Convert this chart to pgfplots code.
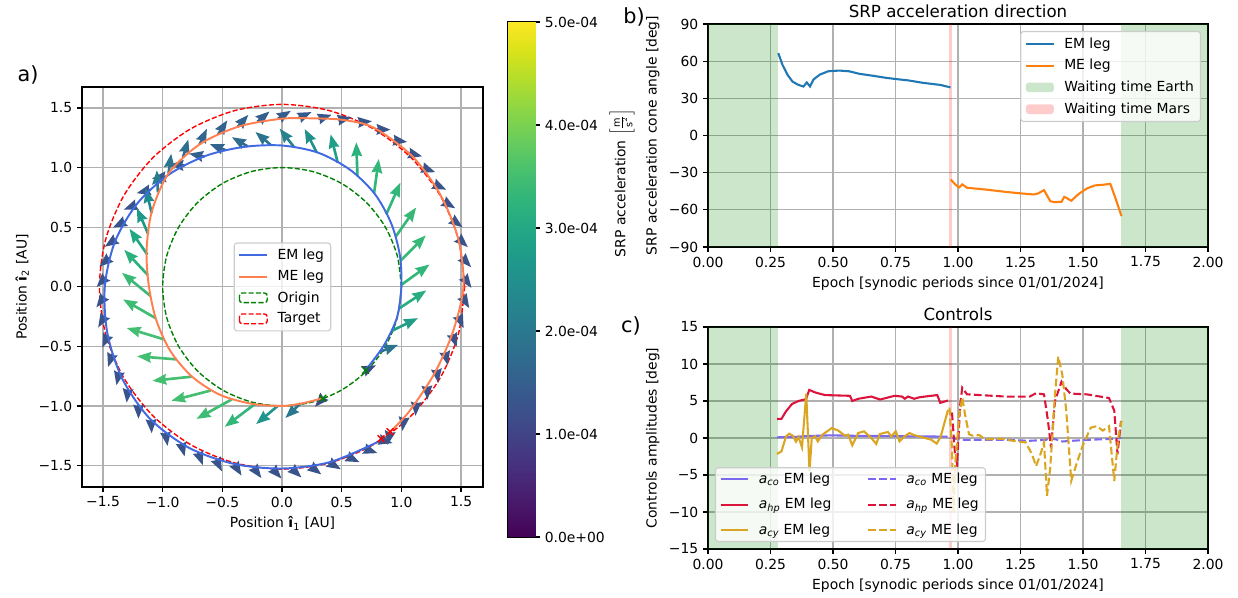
\documentclass[border=0pt]{standalone}
\usepackage{fontspec}
\setmainfont{DejaVu Sans}
\usepackage{pgfplots}
\pgfplotsset{compat=1.18}
\usepackage{pgfplotstable}
\usetikzlibrary{arrows.meta}

\definecolor{royalblue}{RGB}{65,105,225}
\definecolor{coral}{RGB}{255,127,80}
\definecolor{mplgreen}{RGB}{0,128,0}
\definecolor{mplred}{RGB}{255,0,0}
\definecolor{cC0}{RGB}{31,119,180}
\definecolor{cC1}{RGB}{255,127,14}
\definecolor{mslate}{RGB}{123,104,238}
\definecolor{crimson}{RGB}{220,20,60}
\definecolor{goldenrod}{RGB}{218,165,32}
\definecolor{gridgray}{RGB}{176,176,176}
\definecolor{legedge}{RGB}{204,204,204}
\definecolor{waitE}{RGB}{204,230,204}
\definecolor{waitM}{RGB}{255,204,204}

\pgfplotstableread{
x y u v m
0.700 -0.700 0.088 0.041 1.1
0.823 -0.545 0.150 0.058 1.9
0.918 -0.371 0.221 0.108 2.8
0.981 -0.182 0.228 0.151 3.1
1.001 0.017 0.235 0.170 3.3
0.994 0.220 0.211 0.211 3.35
0.952 0.420 0.172 0.245 3.35
0.874 0.608 0.118 0.265 3.3
0.771 0.785 0.040 0.287 3.3
0.632 0.930 -0.010 0.282 3.2
0.467 1.040 -0.060 0.239 2.8
0.290 1.128 -0.100 0.196 2.5
0.099 1.174 -0.119 0.153 2.2
-0.096 1.191 -0.127 0.108 1.9
-0.287 1.177 -0.133 0.078 1.75
-0.473 1.146 -0.132 0.050 1.6
-0.650 1.091 -0.129 0.026 1.5
-0.816 1.018 -0.128 0.005 1.45
-0.969 0.923 -0.122 -0.014 1.4
-1.103 0.813 -0.116 -0.028 1.35
-1.220 0.687 -0.107 -0.040 1.3
-1.316 0.548 -0.101 -0.052 1.3
-1.391 0.399 -0.095 -0.064 1.3
-1.445 0.242 -0.087 -0.074 1.3
-1.476 0.080 -0.078 -0.083 1.3
-1.488 -0.083 -0.068 -0.091 1.3
-1.483 -0.245 -0.058 -0.098 1.3
-1.459 -0.407 -0.047 -0.104 1.3
-1.422 -0.566 -0.036 -0.108 1.3
-1.364 -0.716 -0.024 -0.111 1.3
-1.290 -0.860 -0.012 -0.113 1.3
-1.202 -0.994 -0.001 -0.114 1.3
-1.097 -1.116 0.005 -0.114 1.3
-0.976 -1.223 0.017 -0.113 1.3
-0.844 -1.314 0.028 -0.110 1.3
-0.702 -1.391 0.039 -0.107 1.3
-0.553 -1.448 0.050 -0.102 1.3
-0.399 -1.488 0.060 -0.097 1.3
-0.240 -1.514 0.067 -0.092 1.3
-0.080 -1.525 0.076 -0.085 1.3
0.080 -1.523 0.083 -0.078 1.3
0.239 -1.506 0.091 -0.069 1.3
0.395 -1.473 0.098 -0.059 1.3
0.547 -1.424 0.103 -0.048 1.3
0.692 -1.359 0.108 -0.037 1.3
0.817 -1.282 0.110 -0.030 1.3
}\emarrows

\pgfplotstableread{
x y u v m
0.906 -1.216 -0.022 -0.112 1.3
1.023 -1.097 -0.014 -0.113 1.3
1.124 -0.970 -0.006 -0.114 1.3
1.214 -0.834 0.005 -0.114 1.3
1.294 -0.694 0.015 -0.113 1.3
1.364 -0.548 0.026 -0.111 1.3
1.426 -0.398 0.038 -0.108 1.3
1.475 -0.244 0.047 -0.104 1.3
1.510 -0.082 0.059 -0.098 1.3
1.521 0.082 0.067 -0.092 1.3
1.508 0.247 0.077 -0.084 1.3
1.474 0.409 0.084 -0.077 1.3
1.422 0.566 0.092 -0.067 1.3
1.354 0.717 0.098 -0.059 1.3
1.274 0.862 0.103 -0.048 1.3
1.178 0.999 0.107 -0.038 1.3
1.064 1.121 0.111 -0.027 1.3
0.936 1.229 0.113 -0.014 1.3
0.796 1.320 0.114 -0.002 1.3
0.640 1.379 0.114 0.010 1.3
0.471 1.398 0.112 0.023 1.3
0.304 1.407 0.113 0.036 1.35
0.136 1.415 0.112 0.051 1.4
-0.034 1.410 0.109 0.067 1.45
-0.205 1.385 0.101 0.086 1.5
-0.372 1.341 0.090 0.102 1.55
-0.535 1.279 0.077 0.118 1.6
-0.690 1.195 0.061 0.131 1.65
-0.829 1.088 0.044 0.148 1.75
-0.951 0.951 0.023 0.165 1.9
-1.040 0.792 -0.009 0.185 2.1
-1.092 0.618 -0.049 0.205 2.4
-1.121 0.442 -0.095 0.218 2.7
-1.128 0.269 -0.150 0.217 3.0
-1.124 0.098 -0.198 0.212 3.2
-1.102 -0.077 -0.239 0.194 3.4
-1.058 -0.264 -0.274 0.158 3.45
-0.990 -0.441 -0.312 0.095 3.5
-0.886 -0.609 -0.329 0.026 3.5
-0.754 -0.754 -0.332 -0.035 3.5
-0.599 -0.871 -0.328 -0.085 3.5
-0.421 -0.945 -0.296 -0.164 3.45
-0.227 -0.984 -0.253 -0.191 3.3
-0.035 -0.999 -0.182 -0.153 2.6
0.155 -0.979 -0.127 -0.122 2.0
0.341 -0.936 -0.065 -0.072 1.1
}\mearrows

\pgfplotsset{
  mplstyle/.style={
    scale only axis,
    axis line style={line width=0.8pt},
    every tick/.style={line width=0.8pt, black},
    major tick length=3.5pt,
    tick align=outside,
    tick pos=left,
    grid=major,
    grid style={line width=0.8pt, color=gridgray},
    tick label style={font=\fontsize{10}{12}\selectfont},
    label style={font=\fontsize{10}{12}\selectfont},
    title style={font=\fontsize{12}{14}\selectfont, yshift=-5pt},
    legend cell align=left,
    legend image code/.code={\draw[##1] (0pt,0pt) -- (20pt,0pt);},
    legend style={font=\fontsize{10}{12}\selectfont, draw=legedge, line width=0.8pt,
      fill=white, fill opacity=0.8, draw opacity=1, text opacity=1,
      rounded corners=2pt, inner xsep=3pt, inner ysep=2.5pt, row sep=2.2pt,
      nodes={inner sep=1.8pt},
      /tikz/every odd column/.append style={column sep=5pt}},
  },
  patchleg/.style={legend image code/.code={\draw[##1] (0pt,-3.5pt) rectangle (20pt,3.5pt);}},
  patchE/.style={legend image code/.code={\path[fill=waitE, draw=none, fill opacity=1] (0pt,-3.5pt) rectangle (20pt,3.5pt);}},
  patchM/.style={legend image code/.code={\path[fill=waitM, draw=none, fill opacity=1] (0pt,-3.5pt) rectangle (20pt,3.5pt);}},
  quivarrow/.style={quiver={u=\thisrow{u}, v=\thisrow{v}, colored=mapped color,
   every arrow/.append style={line width=1.9pt, -{Stealth[length=10pt, width=7.5pt, inset=1pt]}}},
   point meta=\thisrow{m}, forget plot},
}

\begin{document}
\begin{tikzpicture}
\useasboundingbox (0,0) rectangle (891.36pt,430.56pt);

% ---------------- panel a ----------------
\begin{axis}[mplstyle, at={(59.04pt,79.92pt)}, anchor=south west,
  width=288.72pt, height=288pt,
  xmin=-1.676, xmax=1.684, ymin=-1.68, ymax=1.676,
  xtick={-1.5,-1,-0.5,0,0.5,1,1.5}, xticklabels={−1.5,−1.0,−0.5,0.0,0.5,1.0,1.5},
  ytick={-1.5,-1,-0.5,0,0.5,1,1.5}, yticklabels={−1.5,−1.0,−0.5,0.0,0.5,1.0,1.5},
  xlabel={Position \textbf{î}\textsubscript{1} [AU]},
  ylabel={Position \textbf{î}\textsubscript{2} [AU]},
  colormap/viridis, point meta min=0, point meta max=5,
  legend style={at={(0.5,0.5)}, anchor=center, row sep=2.6pt},
]
\addplot[mplgreen, line width=1pt, dash pattern=on 3.7pt off 1.6pt, smooth, forget plot] coordinates {
(1,0)(0.966,0.259)(0.866,0.5)(0.707,0.707)(0.5,0.866)(0.259,0.966)(0,1)(-0.259,0.966)(-0.5,0.866)(-0.707,0.707)(-0.866,0.5)(-0.966,0.259)(-1,0)(-0.966,-0.259)(-0.866,-0.5)(-0.707,-0.707)(-0.5,-0.866)(-0.259,-0.966)(0,-1)(0.259,-0.966)(0.5,-0.866)(0.707,-0.707)(0.866,-0.5)(0.966,-0.259)(1,0)};
\addplot[mplred, line width=1pt, dash pattern=on 3.7pt off 1.6pt, smooth, forget plot] coordinates {
(1.53,0)(1.478,0.396)(1.325,0.765)(1.082,1.082)(0.765,1.325)(0.396,1.478)(0,1.53)(-0.396,1.478)(-0.765,1.325)(-1.082,1.082)(-1.325,0.765)(-1.478,0.396)(-1.53,0)(-1.478,-0.396)(-1.325,-0.765)(-1.082,-1.082)(-0.765,-1.325)(-0.396,-1.478)(0,-1.53)(0.396,-1.478)(0.765,-1.325)(1.082,-1.082)(1.325,-0.765)(1.478,-0.396)(1.53,0)};
\addplot[quivarrow] table {\emarrows};
\addplot[quivarrow] table {\mearrows};
\addplot[royalblue, line width=1.4pt, smooth, forget plot] coordinates {
(0.700,-0.700)(0.853,-0.493)(0.963,-0.258)(1.0,0)(0.987,0.265)(0.916,0.529)(0.778,0.778)(0.568,0.983)(0.302,1.125)(0,1.185)(-0.314,1.174)(-0.635,1.100)(-0.944,0.944)(-1.212,0.700)(-1.401,0.375)(-1.485,0)(-1.463,-0.392)(-1.338,-0.773)(-1.107,-1.107)(-0.780,-1.351)(-0.399,-1.487)(0,-1.525)(0.395,-1.473)(0.763,-1.321)(0.830,-1.275)};
\addplot[coral, line width=1.4pt, smooth, forget plot] coordinates {
(0.906,-1.216)(1.057,-1.057)(1.273,-0.735)(1.430,-0.383)(1.52,0)(1.478,0.396)(1.329,0.768)(1.093,1.093)(0.770,1.334)(0.510,1.400)(0.249,1.413)(0,1.41)(-0.360,1.345)(-0.690,1.195)(-0.951,0.951)(-1.091,0.630)(-1.135,0.304)(-1.115,0)(-1.053,-0.282)(-0.935,-0.540)(-0.754,-0.754)(-0.523,-0.905)(-0.263,-0.980)(0,-1.0)(0.172,-0.977)(0.341,-0.936)};
\addplot[only marks, mark=x, mplgreen, mark size=3.5pt, line width=1pt, forget plot] coordinates {(0.700,-0.700)(0.341,-0.936)};
\addplot[only marks, mark=x, mplred, mark size=3.5pt, line width=1pt, forget plot] coordinates {(0.830,-1.275)(0.906,-1.216)};
\addlegendimage{royalblue, line width=1.4pt}\addlegendentry{EM leg}
\addlegendimage{coral, line width=1.4pt}\addlegendentry{ME leg}
\addlegendimage{mplgreen, line width=1pt, dash pattern=on 3.7pt off 1.6pt, patchleg}\addlegendentry{Origin}
\addlegendimage{mplred, line width=1pt, dash pattern=on 3.7pt off 1.6pt, patchleg}\addlegendentry{Target}
\end{axis}

% ---------------- colorbar ----------------
\begin{axis}[at={(365.76pt,43.92pt)}, anchor=south west, scale only axis,
  width=19.44pt, height=370.8pt,
  xmin=0, xmax=1, ymin=0, ymax=5, enlargelimits=false,
  axis line style={line width=0.8pt},
  xtick=\empty, ytick={0,1,2,3,4,5},
  yticklabels={0.0e+00,1.0e-04,2.0e-04,3.0e-04,4.0e-04,5.0e-04},
  ytick pos=right, tick align=outside, major tick length=3.5pt,
  every tick/.style={line width=0.8pt, black},
  tick label style={font=\fontsize{10}{12}\selectfont},
  colormap/viridis, point meta min=0, point meta max=5,
]
\addplot[surf, shader=interp, point meta=y, mesh/cols=2] coordinates {
(0,0)(1,0)(0,0.5)(1,0.5)(0,1)(1,1)(0,1.5)(1,1.5)(0,2)(1,2)(0,2.5)(1,2.5)(0,3)(1,3)(0,3.5)(1,3.5)(0,4)(1,4)(0,4.5)(1,4.5)(0,5)(1,5)};
\end{axis}

% ---------------- panel b ----------------
\begin{axis}[mplstyle, at={(509.76pt,252.72pt)}, anchor=south west,
  width=360pt, height=160.56pt,
  xmin=0, xmax=2, ymin=-90, ymax=90,
  xtick={0,0.25,0.5,0.75,1,1.25,1.5,1.75,2},
  xticklabels={0.00,0.25,0.50,0.75,1.00,1.25,1.50,1.75,2.00},
  ytick={-90,-60,-30,0,30,60,90}, yticklabels={−90,−60,−30,0,30,60,90},
  title={SRP acceleration direction},
  xlabel={Epoch [synodic periods since 01/01/2024]},
  ylabel={SRP acceleration cone angle [deg]},
  legend style={at={(1,1)}, anchor=north east, xshift=-5pt, yshift=-5pt, row sep=3pt},
]
\addplot[fill=mplgreen, fill opacity=0.2, draw=none, forget plot] coordinates {(0,-90)(0.28,-90)(0.28,90)(0,90)} -- cycle;
\addplot[fill=mplgreen, fill opacity=0.2, draw=none, forget plot] coordinates {(1.652,-90)(2,-90)(2,90)(1.652,90)} -- cycle;
\addplot[fill=mplred, fill opacity=0.2, draw=none, forget plot] coordinates {(0.965,-90)(0.975,-90)(0.975,90)(0.965,90)} -- cycle;
\addplot[cC0, line width=1.5pt, forget plot] coordinates {
(0.281,66.5)(0.298,57)(0.318,49)(0.338,43.5)(0.36,41)(0.382,39.5)(0.395,42.8)(0.408,39.6)(0.422,45.2)(0.447,49.1)(0.48,51.8)(0.525,52.4)(0.565,51.8)(0.605,49.8)(0.66,48.2)(0.713,46.5)(0.767,45.2)(0.80,44.5)(0.86,42.5)(0.93,40.8)(0.97,38.8)};
\addplot[cC1, line width=1.5pt, forget plot] coordinates {
(0.971,-35.5)(0.988,-39.3)(1.004,-42)(1.017,-39.5)(1.036,-42.2)(1.109,-43.6)(1.19,-45.5)(1.255,-46.8)(1.304,-47.6)(1.32,-46.8)(1.344,-44.1)(1.369,-53)(1.385,-53.8)(1.414,-53.5)(1.425,-49.5)(1.433,-50.3)(1.453,-52.7)(1.482,-47.3)(1.515,-42.8)(1.547,-40.3)(1.579,-39.8)(1.609,-39)(1.628,-49.5)(1.654,-65.1)};
\addlegendimage{cC0, line width=1.5pt}\addlegendentry{EM leg}
\addlegendimage{cC1, line width=1.5pt}\addlegendentry{ME leg}
\addlegendimage{patchE}\addlegendentry{Waiting time Earth}
\addlegendimage{patchM}\addlegendentry{Waiting time Mars}
\end{axis}

% ---------------- panel c ----------------
\begin{axis}[mplstyle, at={(509.76pt,35.28pt)}, anchor=south west,
  width=360pt, height=159.84pt,
  xmin=0, xmax=2, ymin=-15, ymax=15,
  xtick={0,0.25,0.5,0.75,1,1.25,1.5,1.75,2},
  xticklabels={0.00,0.25,0.50,0.75,1.00,1.25,1.50,1.75,2.00},
  ytick={-15,-10,-5,0,5,10,15}, yticklabels={−15,−10,−5,0,5,10,15},
  title={Controls},
  xlabel={Epoch [synodic periods since 01/01/2024]},
  ylabel={Controls amplitudes [deg]},
  legend columns=2,
  legend style={at={(0,0)}, anchor=south west, xshift=5pt, yshift=5pt, row sep=5.5pt,
    inner ysep=2pt, /tikz/every even column/.append style={column sep=24pt}},
]
\addplot[fill=mplgreen, fill opacity=0.2, draw=none, forget plot] coordinates {(0,-15)(0.28,-15)(0.28,15)(0,15)} -- cycle;
\addplot[fill=mplgreen, fill opacity=0.2, draw=none, forget plot] coordinates {(1.652,-15)(2,-15)(2,15)(1.652,15)} -- cycle;
\addplot[fill=mplred, fill opacity=0.2, draw=none, forget plot] coordinates {(0.965,-15)(0.975,-15)(0.975,15)(0.965,15)} -- cycle;
% EM leg
\addplot[mslate, line width=1.5pt, forget plot] coordinates {
(0.276,0.09)(0.35,0.15)(0.402,0.27)(0.495,0.36)(0.574,0.3)(0.66,0.28)(0.759,0.24)(0.85,0.22)(0.958,0.18)};
\addplot[crimson, line width=1.5pt, forget plot] coordinates {
(0.276,2.56)(0.294,2.6)(0.312,3.6)(0.336,4.6)(0.362,5.0)(0.392,5.25)(0.405,6.5)(0.429,6.15)(0.468,5.8)(0.568,5.7)(0.577,5.0)(0.601,5.3)(0.653,5.6)(0.688,5.2)(0.70,5.3)(0.746,5.7)(0.776,5.6)(0.787,5.3)(0.80,5.6)(0.825,5.3)(0.845,5.5)(0.892,5.7)(0.917,5.8)(0.929,4.75)(0.96,5.07)};
\addplot[goldenrod, line width=1.5pt, forget plot] coordinates {
(0.276,-2.15)(0.294,-1.8)(0.312,0.22)(0.325,0.58)(0.339,0.31)(0.352,-0.5)(0.362,0.13)(0.376,-1.26)(0.393,6.0)(0.406,-4.5)(0.415,0)(0.429,0.22)(0.439,-0.45)(0.458,0.45)(0.495,1.35)(0.521,1.0)(0.548,0.31)(0.561,0.45)(0.577,-0.99)(0.601,0.67)(0.624,0.9)(0.653,0)(0.673,-0.8)(0.687,0.54)(0.72,0.81)(0.733,0.22)(0.751,0.9)(0.766,-0.45)(0.786,0.22)(0.806,0.67)(0.824,0.4)(0.853,0.13)(0.892,-0.22)(0.915,-0.76)(0.931,0.22)(0.96,3.8)};
% ME leg
\addplot[mslate, line width=1.5pt, dash pattern=on 5.55pt off 2.4pt, forget plot] coordinates {
(0.976,0)(1.012,-0.25)(1.19,-0.25)(1.287,-0.38)(1.352,-0.25)(1.365,0)(1.393,-0.2)(1.417,-0.47)(1.515,-0.25)(1.628,-0.11)(1.652,0)};
\addplot[crimson, line width=1.5pt, dash pattern=on 5.55pt off 2.4pt, forget plot] coordinates {
(0.976,3.44)(0.987,-1.73)(0.996,-3.53)(1.009,4.57)(1.017,6.8)(1.036,5.9)(1.19,5.6)(1.287,5.6)(1.312,6.05)(1.344,5.9)(1.36,2.3)(1.372,-1.3)(1.388,5.0)(1.414,7.6)(1.433,6.6)(1.45,6.0)(1.515,5.9)(1.604,5.4)(1.625,3.7)(1.638,-2.2)(1.652,2.3)};
\addplot[goldenrod, line width=1.5pt, dash pattern=on 5.55pt off 2.4pt, forget plot] coordinates {
(0.966,4.1)(0.976,-1.5)(0.982,-10.0)(0.99,-3)(1.005,3)(1.017,5.5)(1.028,3.2)(1.044,0.5)(1.06,0.3)(1.085,0.4)(1.109,-0.2)(1.174,-0.1)(1.223,-0.4)(1.271,-0.6)(1.296,-2.2)(1.312,-3.8)(1.328,-2.4)(1.344,-0.6)(1.356,-7.8)(1.369,-4.0)(1.388,5.9)(1.401,11.0)(1.417,8.6)(1.433,3.7)(1.453,-5.8)(1.474,-3.5)(1.498,-1.1)(1.531,1.4)(1.555,1.6)(1.579,1.0)(1.604,1.6)(1.625,-5.8)(1.641,0.1)(1.654,2.3)};
\addlegendimage{mslate, line width=1.5pt}\addlegendentry{{\itshape a}\textsubscript{\itshape co} EM leg}
\addlegendimage{mslate, line width=1.5pt, dash pattern=on 5.55pt off 2.4pt}\addlegendentry{{\itshape a}\textsubscript{\itshape co} ME leg}
\addlegendimage{crimson, line width=1.5pt}\addlegendentry{{\itshape a}\textsubscript{\itshape hp} EM leg}
\addlegendimage{crimson, line width=1.5pt, dash pattern=on 5.55pt off 2.4pt}\addlegendentry{{\itshape a}\textsubscript{\itshape hp} ME leg}
\addlegendimage{goldenrod, line width=1.5pt}\addlegendentry{{\itshape a}\textsubscript{\itshape cy} EM leg}
\addlegendimage{goldenrod, line width=1.5pt, dash pattern=on 5.55pt off 2.4pt}\addlegendentry{{\itshape a}\textsubscript{\itshape cy} ME leg}
\end{axis}

% ---------------- panel labels ----------------
\node[font=\fontsize{15}{18}\selectfont] at (20.16pt,376.56pt) {a)};
\node[font=\fontsize{15}{18}\selectfont] at (456.5pt,418.3pt) {b)};
\node[font=\fontsize{15}{18}\selectfont] at (454.3pt,195.8pt) {c)};
\node[font=\fontsize{10}{12}\selectfont, rotate=90] at (447.8pt,298.8pt)
  {SRP acceleration $\left[\frac{\mathrm{m}}{\mathrm{s}^2}\right]$};
\end{tikzpicture}
\end{document}
